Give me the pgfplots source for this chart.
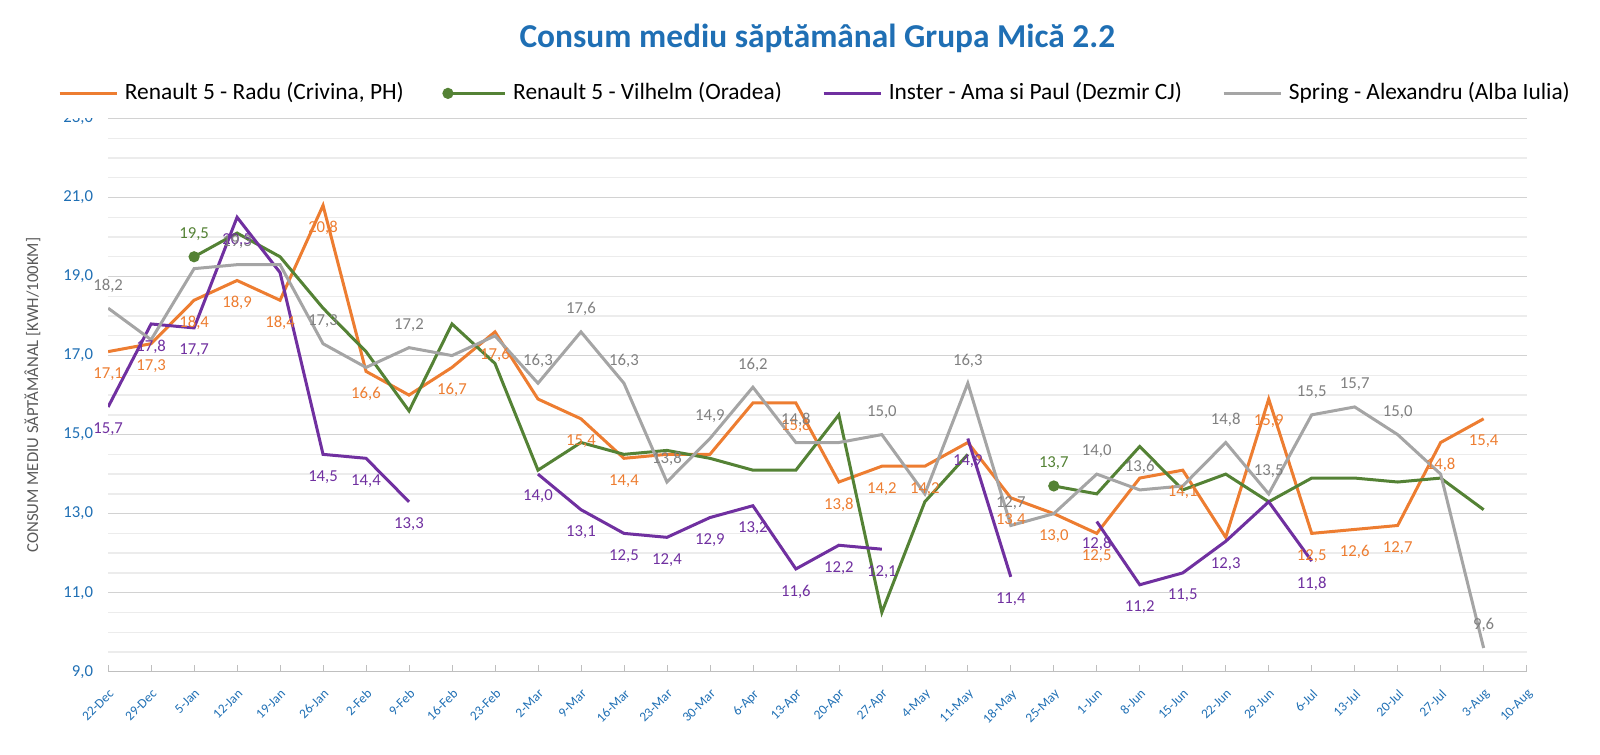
\documentclass[border=4pt]{standalone}
\usepackage{fontspec}
\setmainfont{Carlito}
\usepackage{pgfplots}
\pgfplotsset{compat=1.18}
\definecolor{cor}{HTML}{ED7D31}
\definecolor{cgr}{HTML}{548235}
\definecolor{cpu}{HTML}{7030A0}
\definecolor{cgy}{HTML}{A5A5A5}
\definecolor{ctt}{HTML}{1F6FB4}
\begin{document}
\begin{tikzpicture}
\begin{axis}[
 width=16.5cm, height=7.4cm,
 xmin=0,xmax=33, ymin=9, ymax=23,
 xtick={0,...,33},
 xticklabels={22-Dec,29-Dec,5-Jan,12-Jan,19-Jan,26-Jan,2-Feb,9-Feb,16-Feb,23-Feb,2-Mar,9-Mar,16-Mar,23-Mar,30-Mar,6-Apr,13-Apr,20-Apr,27-Apr,4-May,11-May,18-May,25-May,1-Jun,8-Jun,15-Jun,22-Jun,29-Jun,6-Jul,13-Jul,20-Jul,27-Jul,3-Aug,10-Aug},
 xticklabel style={rotate=45,anchor=north east,font=\fontsize{4}{4}\selectfont,text=ctt},
 ytick={9,11,...,23}, minor ytick={9.5,10,...,23},
 yticklabel style={font=\fontsize{5}{5}\selectfont,text=ctt,/pgf/number format/fixed,/pgf/number format/fixed zerofill,/pgf/number format/precision=1,/pgf/number format/use comma,/pgf/number format/assume math mode=true},
 ymajorgrids, yminorgrids, major grid style={gray!35}, minor grid style={gray!15},
 axis x line*=bottom, axis y line=left, y axis line style={draw=none}, x axis line style={gray!50},
 major tick length=2pt, tick style={gray!50}, ytick style={draw=none},
 ylabel={CONSUM MEDIU SĂPTĂMÂNAL [KWH/100KM]}, ylabel style={font=\fontsize{5}{5}\selectfont,text=gray!70!black},
 title={Consum mediu săptămânal Grupa Mică 2.2}, title style={font=\fontsize{10}{10}\selectfont\bfseries,text=ctt,yshift=10pt},
 legend style={at={(0.5,1.0)},anchor=south,draw=none,legend columns=-1,font=\fontsize{7}{7}\selectfont,/tikz/every even column/.append style={column sep=10pt}},
 unbounded coords=jump, every axis plot/.append style={line width=0.9pt},
 nodes near coords, point meta=explicit symbolic,
 every node near coord/.append style={font=\fontsize{5}{5}\selectfont},
]
\addplot[cor,no marks,every node near coord/.append style={text=cor,anchor=north,yshift=-1pt}] table[meta=l] {
x y l
0 17.1 {17,1}
1 17.3 {17,3}
2 18.4 {18,4}
3 18.9 {18,9}
4 18.4 {18,4}
5 20.8 {20,8}
6 16.6 {16,6}
7 16.0 {}
8 16.7 {16,7}
9 17.6 {17,6}
10 15.9 {}
11 15.4 {15,4}
12 14.4 {14,4}
13 14.5 {}
14 14.5 {}
15 15.8 {}
16 15.8 {15,8}
17 13.8 {13,8}
18 14.2 {14,2}
19 14.2 {14,2}
20 14.8 {}
21 13.4 {13,4}
22 13.0 {13,0}
23 12.5 {12,5}
24 13.9 {}
25 14.1 {14,1}
26 12.4 {}
27 15.9 {15,9}
28 12.5 {12,5}
29 12.6 {12,6}
30 12.7 {12,7}
31 14.8 {14,8}
32 15.4 {15,4}
};
\addlegendentry{Renault 5 - Radu (Crivina, PH)}
\addplot[cgr,mark=*,mark size=1.2pt,mark indices={1,21},every node near coord/.append style={text=cgr,anchor=south,yshift=1pt}] table[meta=l] {
x y l
2 19.5 {19,5}
3 20.1 {}
4 19.5 {19,5}
5 18.2 {}
6 17.1 {17,1}
7 15.6 {15,6}
8 17.8 {17,8}
9 16.8 {16,8}
10 14.1 {}
11 14.8 {14,8}
12 14.5 {14,5}
13 14.6 {14,6}
14 14.4 {14,4}
15 14.1 {14,1}
16 14.1 {14,1}
17 15.5 {15,5}
18 10.5 {10,5}
19 13.3 {13,3}
20 14.5 {}
21 nan {}
22 13.7 {13,7}
23 13.5 {}
24 14.7 {14,7}
25 13.6 {13,6}
26 14.0 {14,0}
27 13.3 {13,3}
28 13.9 {13,9}
29 13.9 {13,9}
30 13.8 {13,8}
31 13.9 {13,9}
32 13.1 {13,1}
};
\addlegendentry{Renault 5 - Vilhelm (Oradea)}
\addplot[cpu,no marks,every node near coord/.append style={text=cpu,anchor=north,yshift=-1pt}] table[meta=l] {
x y l
0 15.7 {15,7}
1 17.8 {17,8}
2 17.7 {17,7}
3 20.5 {20,5}
4 19.1 {}
5 14.5 {14,5}
6 14.4 {14,4}
7 13.3 {13,3}
8 nan {}
10 14.0 {14,0}
11 13.1 {13,1}
12 12.5 {12,5}
13 12.4 {12,4}
14 12.9 {12,9}
15 13.2 {13,2}
16 11.6 {11,6}
17 12.2 {12,2}
18 12.1 {12,1}
19 nan {}
20 14.9 {14,9}
21 11.4 {11,4}
22 nan {}
23 12.8 {12,8}
24 11.2 {11,2}
25 11.5 {11,5}
26 12.3 {12,3}
27 13.3 {}
28 11.8 {11,8}
};
\addlegendentry{Inster - Ama si Paul (Dezmir CJ)}
\addplot[cgy,no marks,every node near coord/.append style={text=gray,anchor=south,yshift=1pt}] table[meta=l] {
x y l
0 18.2 {18,2}
1 17.4 {}
2 19.2 {}
3 19.3 {19,3}
4 19.3 {}
5 17.3 {17,3}
6 16.7 {}
7 17.2 {17,2}
8 17.0 {}
9 17.5 {}
10 16.3 {16,3}
11 17.6 {17,6}
12 16.3 {16,3}
13 13.8 {13,8}
14 14.9 {14,9}
15 16.2 {16,2}
16 14.8 {14,8}
17 14.8 {}
18 15.0 {15,0}
19 13.5 {}
20 16.3 {16,3}
21 12.7 {12,7}
22 13.0 {}
23 14.0 {14,0}
24 13.6 {13,6}
25 13.7 {}
26 14.8 {14,8}
27 13.5 {13,5}
28 15.5 {15,5}
29 15.7 {15,7}
30 15.0 {15,0}
31 14.0 {}
32 9.6 {9,6}
};
\addlegendentry{Spring - Alexandru (Alba Iulia)}
\end{axis}
\end{tikzpicture}
\end{document}
